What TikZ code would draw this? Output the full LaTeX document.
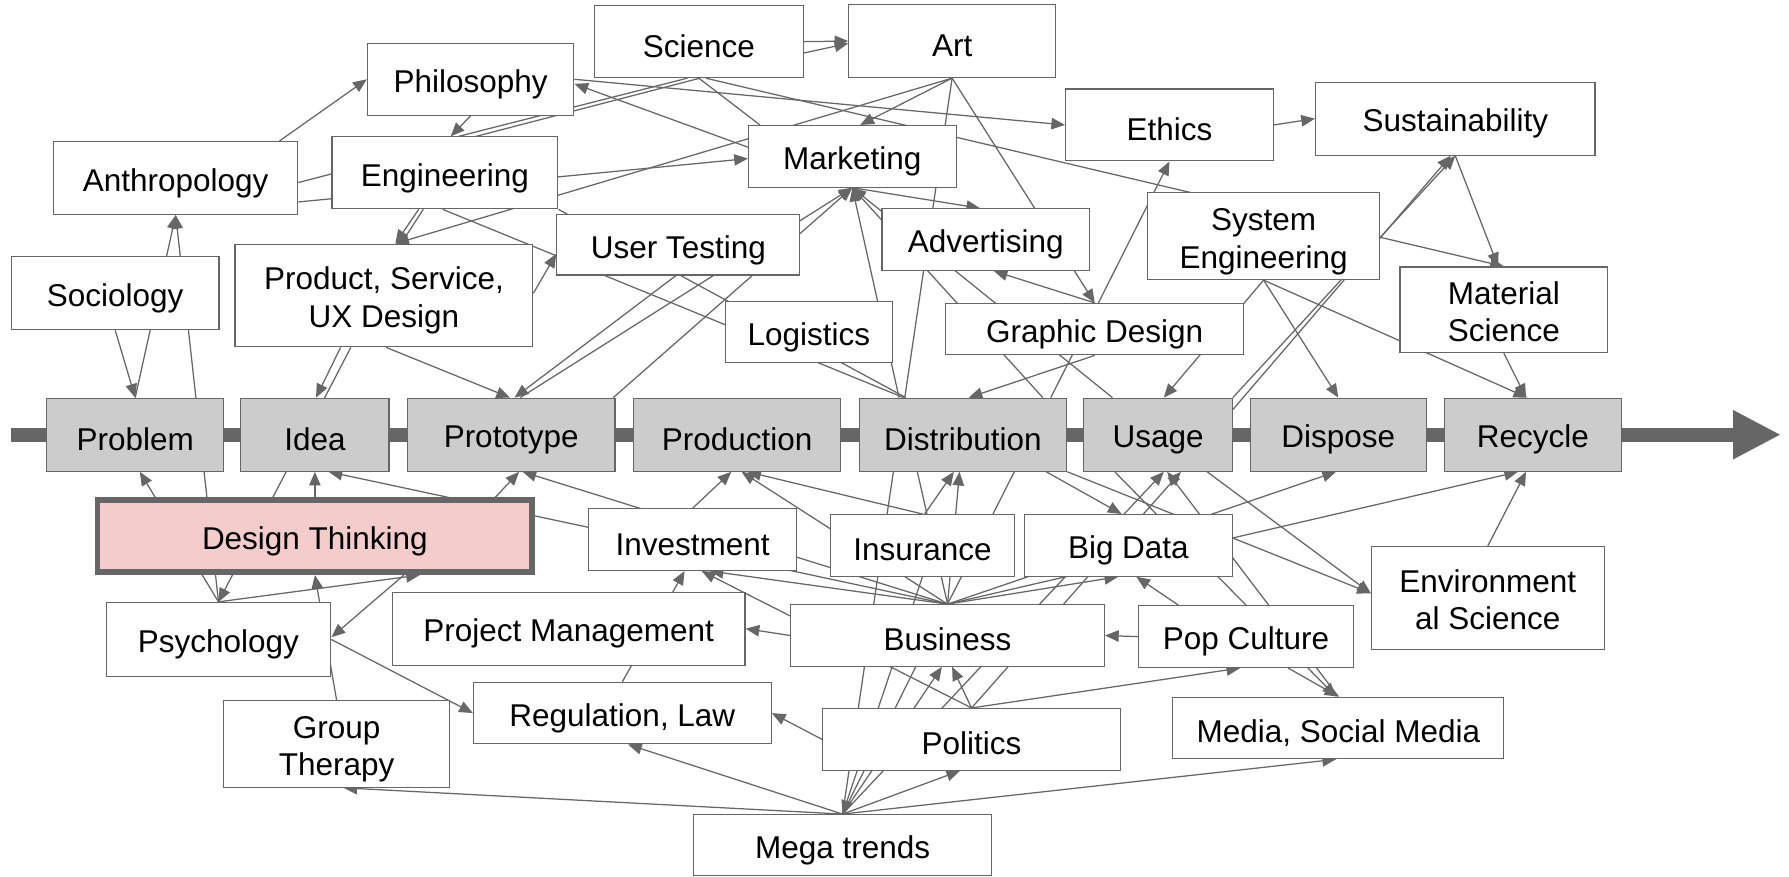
\documentclass[tikz,border=0pt]{standalone}
\usepackage{fontspec}
\setmainfont{Liberation Sans}
\usetikzlibrary{arrows.meta, backgrounds}
\definecolor{linegray}{HTML}{666666}
\definecolor{stagefill}{HTML}{CCCCCC}
\definecolor{pinkfill}{HTML}{F4CCCC}
\newcommand{\boxstrut}{\rule[-2pt]{0pt}{31pt}}

\begin{document}
\begin{tikzpicture}[
        x=1pt, y=-1pt,
        font=\fontsize{27.6}{33}\selectfont,
        box/.style={rectangle, draw=linegray, line width=1pt, fill=white, align=center, inner sep=0pt,
            execute at begin node=\boxstrut, execute at end node=\boxstrut},
        twoline/.style={execute at begin node=\rule{0pt}{62pt}, execute at end node=\rule[-6pt]{0pt}{6pt}},
        stagebox/.style={box, fill=stagefill, minimum height=64pt},
        keybox/.style={box, fill=pinkfill, line width=5pt},
        link/.style={draw=linegray, line width=1.1pt},
        arr/.style={link, -{Triangle[length=12pt, width=10pt]}}
    ]
    \useasboundingbox (0,0) rectangle (1568,768);

    % Stages
    \node[stagebox, minimum width=155pt] (prob) at (118.5,381) {Problem};
    \node[stagebox, minimum width=130pt] (idea) at (276,381) {Idea};
    \node[stagebox, minimum width=182pt] (proto) at (448,381) {Prototype};
    \node[stagebox, minimum width=182pt] (prod) at (646,381) {Production};
    \node[stagebox, minimum width=182pt] (dist) at (844,381) {Distribution};
    \node[stagebox, minimum width=130pt] (usage) at (1015,381) {Usage};
    \node[stagebox, minimum width=154pt] (disp) at (1173,381) {Dispose};
    \node[stagebox, minimum width=155pt] (recy) at (1343.5,381) {Recycle};
    \coordinate (flowstart) at (10,381);
    \coordinate (flowend) at (1561,381);

    % Upper fields
    \node[box, minimum width=183pt, minimum height=63pt] (sci) at (612.5,36.5) {Science};
    \node[box, minimum width=181pt, minimum height=64pt] (art) at (834.5,36) {Art};
    \node[box, minimum width=181pt, minimum height=63pt] (phil) at (412.5,69.5) {Philosophy};
    \node[box, minimum width=214pt, minimum height=64pt] (anth) at (154,156) {Anthropology};
    \node[box, minimum width=198pt, minimum height=63pt] (eng) at (390,151.5) {Engineering};
    \node[box, minimum width=182pt, minimum height=64pt] (soc) at (101,257) {Sociology};
    \node[box, twoline, minimum width=261pt, minimum height=90pt] (psux) at (336.5,259) {Product, Service,\\UX Design};
    \node[box, minimum width=213pt, minimum height=53pt] (ut) at (594.5,214.5) {User Testing};
    \node[box, minimum width=182pt, minimum height=54pt] (mkt) at (747,137) {Marketing};
    \node[box, minimum width=182pt, minimum height=63pt] (eth) at (1025,109.5) {Ethics};
    \node[box, minimum width=245pt, minimum height=64pt] (sust) at (1275.5,104) {Sustainability};
    \node[box, minimum width=182pt, minimum height=54pt] (adv) at (864,210) {Advertising};
    \node[box, twoline, minimum width=203pt, minimum height=76pt] (syse) at (1107.5,207) {System\\Engineering};
    \node[box, twoline, minimum width=182pt, minimum height=75pt] (mats) at (1318,271.5) {Material\\Science};
    \node[box, minimum width=146pt, minimum height=54pt] (log) at (709,291) {Logistics};
    \node[box, minimum width=261pt, minimum height=45pt] (gd) at (959.5,288.5) {Graphic Design};

    % Lower fields
    \node[keybox, minimum width=381pt, minimum height=63pt] (dt) at (276,470) {Design Thinking};
    \node[box, minimum width=197pt, minimum height=65pt] (psy) at (191.5,560.5) {Psychology};
    \node[box, twoline, minimum width=198pt, minimum height=76pt] (gt) at (295,652) {Group\\Therapy};
    \node[box, minimum width=309pt, minimum height=64pt] (pm) at (498.5,551) {Project Management};
    \node[box, minimum width=261pt, minimum height=54pt] (rl) at (545.5,625) {Regulation, Law};
    \node[box, minimum width=182pt, minimum height=54pt] (inv) at (607,473) {Investment};
    \node[box, minimum width=161pt, minimum height=54pt] (ins) at (808.5,478) {Insurance};
    \node[box, minimum width=182pt, minimum height=54pt] (bd) at (989,478) {Big Data};
    \node[box, minimum width=275pt, minimum height=54pt] (bus) at (830.5,557) {Business};
    \node[box, minimum width=188pt, minimum height=54pt] (pc) at (1092,558) {Pop Culture};
    \node[box, minimum width=261pt, minimum height=54pt] (pol) at (851.5,648) {Politics};
    \node[box, minimum width=261pt, minimum height=53pt] (mt) at (738.5,740.5) {Mega trends};
    \node[box, twoline, minimum width=204pt, minimum height=90pt] (es) at (1304,524) {Environment\\al Science};
    \node[box, minimum width=290pt, minimum height=54pt] (msm) at (1173,638) {Media, Social Media};

    \begin{scope}[on background layer]
        % Flow bar
        \draw[draw=linegray, line width=12pt, -{Triangle[length=42pt, width=40pt]}] (flowstart) -- (flowend);

        % Upper left links
        \draw[arr] ([xshift=91pt]anth.north) -- (phil.west);
        \draw[arr] (phil.south) -- ([xshift=5pt]eng.north);
        \draw[link] ([yshift=-4pt]anth.east) -- ([xshift=1pt]sci.south);
        \draw[link] ([xshift=12pt]eng.north) -- ([xshift=-10pt]sci.south);
        \draw[arr] ([yshift=-21pt]anth.east) -- ([yshift=-2pt]mkt.west);
        \draw[arr] (art.south) -- ([xshift=10pt]psux.north);
        \draw[arr] ([xshift=-23pt]eng.south) -- ([xshift=10pt]psux.north);
        \draw[link] ([xshift=-19pt]eng.south) -- ([xshift=15pt]psux.north);
        \draw[arr] ([xshift=-38pt]psux.south) -- ([xshift=1pt]idea.north);
        \draw[arr] ([xshift=-29pt]psux.south) -- (psy.north);
        \draw[arr] ([yshift=2pt]psux.east) -- ([yshift=-8pt]ut.west);
        \draw[link] ([xshift=-2pt]eng.south) -- ([xshift=-52pt]dist.north);
        \draw[link] (eng.south east) -- ([xshift=-50pt]dist.north);
        \draw[arr] ([xshift=2pt]psux.south) -- ([xshift=-1pt]proto.north);
        \draw[arr] ([xshift=-2pt]ut.south) -- ([xshift=3pt]proto.north);
        \draw[arr] ([xshift=8pt]proto.north) -- (mkt.south);
        \draw[arr] ([xshift=-2pt]proto.north east) -- (mkt.south);
        \draw[arr] (soc.south) -- (prob.north);
        \draw[arr] (prob.north) -- (anth.south);
        \draw[arr] (psy.north) -- (anth.south);
        \draw[arr] (psy.north) -- ([xshift=4pt]prob.south);

        % Design Thinking links
        \draw[arr] (dt.north) -- (idea.south);
        \draw[arr] (bus.north) -- ([xshift=12pt]idea.south);
        \draw[arr] ([xshift=158pt]dt.north) -- ([xshift=7pt]proto.south);
        \draw[arr] (bus.north) -- ([xshift=10pt]proto.south);
        \draw[arr] (gt.north) -- (dt.south);
        \draw[arr] (psy.north) -- ([xshift=92pt]dt.south);
        \draw[arr] ([xshift=78pt]dt.south) -- ([yshift=2pt]psy.east);
        \draw[arr] (psy.east) -- (rl.west);
        \draw[arr] (mt.north) -- ([xshift=6pt]gt.south);

        % Business links
        \draw[arr] (inv.north) -- ([xshift=-5pt]prod.south);
        \draw[arr] (bus.north) -- ([xshift=4pt]prod.south);
        \draw[arr] (ins.north) -- ([xshift=9pt]prod.south);
        \draw[link] (mt.north) -- ([xshift=-61pt]dist.south);
        \draw[arr] ([xshift=2pt]ins.north) -- ([xshift=-8pt]dist.south);
        \draw[link] ([xshift=-40pt]dist.south) -- (bus.north);
        \draw[arr] (bus.north) -- ([xshift=-3pt]dist.south);
        \draw[link] ([xshift=45pt]dist.south) -- (bus.north);
        \draw[arr] ([xshift=73pt]dist.south) -- ([xshift=-6pt]bd.north);
        \draw[arr] (dist.south east) -- ([yshift=4pt]es.west);
        \draw[arr] (mt.north) -- ([xshift=5pt]usage.south);
        \draw[arr] (pol.north) -- ([xshift=20pt]usage.south);
        \draw[arr] ([xshift=-38pt]usage.south) -- ([xshift=-2pt]msm.north);
        \draw[arr] (msm.north) -- ([xshift=8pt]usage.south);
        \draw[arr] ([xshift=43pt]usage.south) -- ([yshift=4pt]es.west);
        \draw[arr] (bus.north) -- ([xshift=-13pt]recy.south);
        \draw[arr] (bus.north) -- ([xshift=-2pt]disp.south);
        \draw[arr] (bus.north) -- ([xshift=-9pt]bd.south);
        \draw[arr] (bus.north) -- ([xshift=15pt]inv.south);
        \draw[arr] (rl.north) -- ([xshift=-7pt]inv.south);
        \draw[arr] (pol.north) -- ([xshift=8pt]inv.south);
        \draw[arr] (bus.west) -- (pm.east);
        \draw[arr] (mt.north) -- ([xshift=-5pt]bus.south);
        \draw[arr] (pol.north) -- ([xshift=4pt]bus.south);
        \draw[link] (mt.north) -- ([xshift=-28pt]bus.south);
        \draw[arr] (pol.west) -- (rl.east);
        \draw[arr] (pol.north) -- ([xshift=-5pt]pc.south);
        \draw[arr] (mt.north) -- ([xshift=5pt]rl.south);
        \draw[arr] (mt.north) -- ([xshift=-10pt]pol.south);
        \draw[arr] (mt.north) -- ([xshift=-2pt]msm.south);
        \draw[arr] (ins.south) -- (mt.north);
        \draw[arr] (pc.west) -- (bus.east);
        \draw[arr] ([xshift=-59pt]pc.north) -- ([xshift=7pt]bd.south);
        \draw[arr] ([xshift=37pt]pc.south) -- (msm.north);
        \draw[arr] (es.north) -- ([xshift=-6pt]recy.south);

        % Upper right links
        \draw[arr] (art.south) -- ([xshift=7pt]mkt.north);
        \draw[link] (art.south) -- ([xshift=-51pt]dist.north);
        \draw[arr] (art.south) -- (gd.north);
        \draw[arr] (mkt.south) -- ([xshift=-5pt]adv.north);
        \draw[arr] ([xshift=-56pt]dist.north) -- (mkt.south);
        \draw[arr] ([xshift=70pt]dist.north) -- (mkt.south);
        \draw[arr] ([xshift=-40pt]usage.north) -- (mkt.south);
        \draw[arr] (gd.north) -- ([xshift=7pt]adv.south);
        \draw[arr] ([xshift=77pt]dist.north) -- (eth.south);
        \draw[arr] (gd.south) -- ([xshift=5pt]dist.north);
        \draw[arr] (syse.south) -- ([xshift=5pt]usage.north);
        \draw[arr] (syse.south) -- (disp.north);
        \draw[arr] (syse.south) -- ([xshift=-5pt]recy.north);
        \draw[arr] (usage.north east) -- (sust.south);
        \draw[arr] ([yshift=22pt]usage.east) -- ([xshift=-4pt]sust.south);
        \draw[arr] ([xshift=6pt]sci.south) -- (mats.north);
        \draw[arr] (sust.south) -- ([xshift=-5pt]mats.north);
        \draw[arr] (mats.south) -- ([xshift=-6pt]recy.north);
        \draw[arr] (eth.east) -- (sust.west);
        \draw[arr] (phil.east) -- (eth.west);
        \draw[arr] ([yshift=8pt]mkt.west) -- ([yshift=-4pt]phil.east);
        \draw[link] (sci.south) -- ([xshift=-81pt]mkt.north);
        \draw[arr] (sci.east) -- (art.west);
        \draw[arr] ([yshift=-10pt]sci.east) -- ([yshift=-2pt]art.west);
    \end{scope}
\end{tikzpicture}
\end{document}
